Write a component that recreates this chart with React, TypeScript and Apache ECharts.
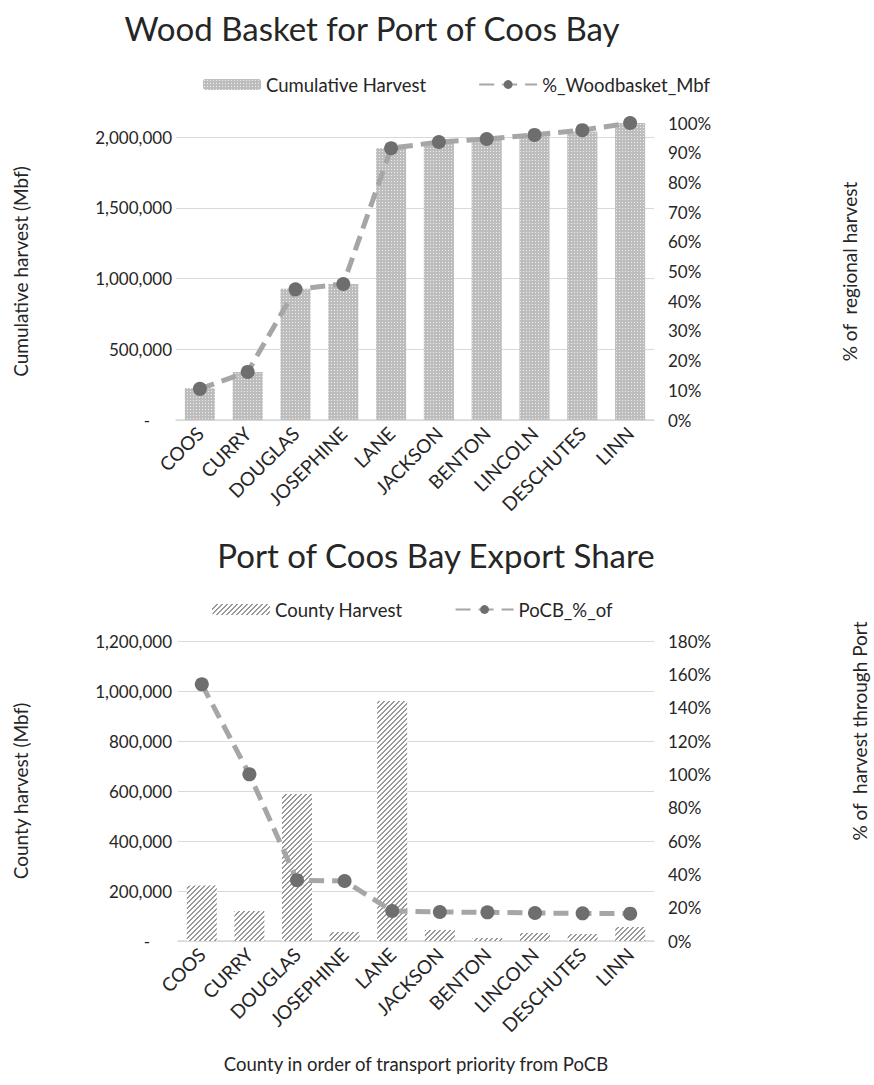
import React, { useEffect, useRef } from "react";
import * as echarts from "echarts";

const categories = ["COOS", "CURRY", "DOUGLAS", "JOSEPHINE", "LANE", "JACKSON", "BENTON", "LINCOLN", "DESCHUTES", "LINN"];
const cumulativeHarvest = [225000, 340000, 928000, 962000, 1922000, 1962000, 1985000, 2015000, 2040000, 2105000];
const woodbasketPct = [10.5, 16.2, 44, 45.8, 91.5, 93.6, 94.6, 96, 97.6, 100];
const countyHarvest = [222000, 120000, 588000, 36000, 960000, 44000, 12000, 32000, 28000, 56000];
const pocbPct = [154, 100, 36.5, 36, 18, 17.4, 17.2, 16.8, 16.6, 16.4];
const topLeftTicks = [0, 500000, 1000000, 1500000, 2000000];

const FONT = "Lato";
const TEXT = "#262626";
const GRID = "#d9d9d9";

function makeDotPattern(): HTMLCanvasElement {
  const c = document.createElement("canvas");
  c.width = 3;
  c.height = 3;
  const ctx = c.getContext("2d")!;
  ctx.fillStyle = "#bdbdbd";
  ctx.fillRect(0, 0, 3, 3);
  ctx.fillStyle = "#eeeeee";
  ctx.fillRect(1, 1, 1, 1);
  return c;
}

function makeHatchPattern(): HTMLCanvasElement {
  const n = 5;
  const c = document.createElement("canvas");
  c.width = n;
  c.height = n;
  const ctx = c.getContext("2d")!;
  ctx.fillStyle = "#ffffff";
  ctx.fillRect(0, 0, n, n);
  ctx.fillStyle = "#9a9a9a";
  for (let y = 0; y < n; y++) {
    const x = n - 1 - y;
    ctx.fillRect(x, y, 1, 1);
    ctx.fillRect((x + 1) % n, y, 1, 1);
  }
  return c;
}

const fmtNum = (v: number) => (v === 0 ? "{d|-}" : v.toLocaleString("en-US"));

export default function App() {
  const ref = useRef<HTMLDivElement>(null);
  useEffect(() => {
    if (!ref.current) return;
    const chart = echarts.init(ref.current, null, { renderer: "svg" });
    const dot = { image: makeDotPattern(), repeat: "repeat" };
    const hatch = { image: makeHatchPattern(), repeat: "repeat" };
    const axisLabelBase = { fontFamily: FONT, fontSize: 17, color: TEXT };
    const lineSeriesStyle = {
      lineStyle: { color: "#a6a6a6", width: 5, type: [15, 8] },
      symbol: "circle",
      symbolSize: 14,
      itemStyle: { color: "#6e6e6e" },
    };
    const xLabel = { ...axisLabelBase, fontSize: 19, rotate: 45, interval: 0, margin: 10 };
    chart.setOption({
      animation: false,
      backgroundColor: "#ffffff",
      title: [
        {
          text: "Wood Basket for Port of Coos Bay",
          left: 367,
          top: 6,
          textAlign: "center",
          textStyle: { fontFamily: FONT, fontSize: 33, fontWeight: "normal", color: TEXT },
        },
        {
          text: "Port of Coos Bay Export Share",
          left: 431,
          top: 533,
          textAlign: "center",
          textStyle: { fontFamily: FONT, fontSize: 33, fontWeight: "normal", color: TEXT },
        },
      ],
      legend: [
        {
          left: 198,
          top: 70,
          itemWidth: 58,
          itemHeight: 11,
          itemGap: 52,
          textStyle: { fontFamily: FONT, fontSize: 18.5, color: TEXT },
          data: ["Cumulative Harvest", "%_Woodbasket_Mbf"],
        },
        {
          left: 207,
          top: 595,
          itemWidth: 58,
          itemHeight: 11,
          itemGap: 52,
          textStyle: { fontFamily: FONT, fontSize: 18.5, color: TEXT },
          data: ["County Harvest", "PoCB_%_of"],
        },
      ],
      grid: [
        { left: 176, right: 220, top: 123, height: 297 },
        { left: 178, right: 220, top: 641, height: 300 },
      ],
      xAxis: [
        {
          type: "category",
          gridIndex: 0,
          data: categories,
          axisLine: { lineStyle: { color: GRID, width: 1.5 } },
          axisTick: { show: false },
          axisLabel: xLabel,
        },
        {
          type: "category",
          gridIndex: 1,
          data: categories,
          name: "County in order of transport priority from PoCB",
          nameLocation: "middle",
          nameGap: 113,
          nameTextStyle: { fontFamily: FONT, fontSize: 18.5, color: TEXT },
          axisLine: { lineStyle: { color: GRID, width: 1.5 } },
          axisTick: { show: false },
          axisLabel: xLabel,
        },
      ],
      yAxis: [
        {
          type: "value",
          gridIndex: 0,
          min: 0,
          max: 2100000,
          interval: 500000,
          name: "Cumulative harvest (Mbf)",
          nameLocation: "middle",
          nameRotate: 90,
          nameGap: 146,
          nameTextStyle: { fontFamily: FONT, fontSize: 19, color: TEXT },
          axisLine: { show: false },
          axisTick: { show: false, customValues: topLeftTicks },
          splitLine: { lineStyle: { color: GRID, width: 1.2 } },
          axisLabel: {
            ...axisLabelBase,
            customValues: topLeftTicks,
            margin: 4,
            formatter: fmtNum,
            rich: { d: { fontFamily: FONT, fontSize: 17, color: TEXT, padding: [0, 22, 0, 0] } },
          },
        },
        {
          type: "value",
          gridIndex: 0,
          position: "right",
          min: 0,
          max: 100,
          interval: 10,
          name: "% of  regional harvest",
          nameLocation: "middle",
          nameRotate: 90,
          nameGap: 186,
          nameTextStyle: { fontFamily: FONT, fontSize: 19, color: TEXT },
          axisLine: { show: false },
          axisTick: { show: false },
          splitLine: { show: false },
          axisLabel: { ...axisLabelBase, margin: 14, formatter: (v: number) => v + "%" },
        },
        {
          type: "value",
          gridIndex: 1,
          min: 0,
          max: 1200000,
          interval: 200000,
          name: "County harvest (Mbf)",
          nameLocation: "middle",
          nameRotate: 90,
          nameGap: 148,
          nameTextStyle: { fontFamily: FONT, fontSize: 19, color: TEXT },
          axisLine: { show: false },
          axisTick: { show: false },
          splitLine: { lineStyle: { color: GRID, width: 1.2 } },
          axisLabel: {
            ...axisLabelBase,
            margin: 6,
            formatter: fmtNum,
            rich: { d: { fontFamily: FONT, fontSize: 17, color: TEXT, padding: [0, 22, 0, 0] } },
          },
        },
        {
          type: "value",
          gridIndex: 1,
          position: "right",
          min: 0,
          max: 180,
          interval: 20,
          axisLine: { show: false },
          axisTick: { show: false },
          splitLine: { show: false },
          axisLabel: { ...axisLabelBase, margin: 14, formatter: (v: number) => v + "%" },
        },
      ],
      graphic: [
        {
          type: "text",
          x: 859,
          y: 731,
          rotation: Math.PI / 2,
          style: {
            text: "% of  harvest through Port",
            fontFamily: FONT,
            fontSize: 19,
            fill: TEXT,
            align: "center",
            verticalAlign: "middle",
          },
        },
      ],
      series: [
        {
          name: "Cumulative Harvest",
          type: "bar",
          xAxisIndex: 0,
          yAxisIndex: 0,
          data: cumulativeHarvest,
          barCategoryGap: "37%",
          itemStyle: { color: dot },
        },
        {
          name: "%_Woodbasket_Mbf",
          type: "line",
          xAxisIndex: 0,
          yAxisIndex: 1,
          data: woodbasketPct,
          ...lineSeriesStyle,
        },
        {
          name: "County Harvest",
          type: "bar",
          xAxisIndex: 1,
          yAxisIndex: 2,
          data: countyHarvest,
          barCategoryGap: "37%",
          itemStyle: { color: hatch },
        },
        {
          name: "PoCB_%_of",
          type: "line",
          xAxisIndex: 1,
          yAxisIndex: 3,
          data: pocbPct,
          ...lineSeriesStyle,
        },
      ],
    });
    return () => chart.dispose();
  }, []);
  return <div ref={ref} style={{ position: "absolute", left: 0, top: 0, width: 874, height: 1085 }} />;
}
